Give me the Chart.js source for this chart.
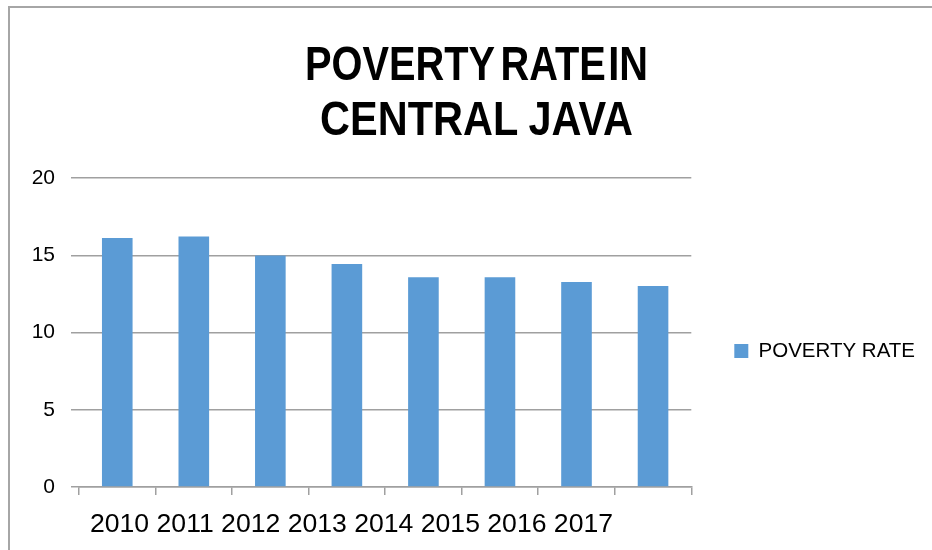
<!DOCTYPE html>
<html>
<head>
<meta charset="utf-8">
<title>Poverty Rate in Central Java</title>
<script src="https://cdn.jsdelivr.net/npm/chart.js@4.4.0/dist/chart.umd.min.js"></script>
<style>
  body { margin: 0; background: #fff; }
  #wrap { position: relative; width: 932px; height: 550px; }
</style>
</head>
<body>
<div id="wrap"><canvas id="poverty-chart" width="932" height="550"></canvas></div>
<script>
var years = ['2010', '2011', '2012', '2013', '2014', '2015', '2016', '2017'];
var povertyRate = [16.11, 16.21, 14.98, 14.44, 13.58, 13.58, 13.27, 13.01];
var seriesName = 'POVERTY RATE';
var titleLines = ['POVERTY RATE IN', 'CENTRAL JAVA'];

var gridColor = '#a0a0a0';
var barColor = '#5b9bd5';
var fontFamily = '"Liberation Sans", Arial, sans-serif';

// thin grey frame round the chart object (top and left edges show)
var framePlugin = {
    id: 'frame',
    beforeDraw: function(chart) {
        var c = chart.ctx;
        c.save();
        c.strokeStyle = '#a6a6a6';
        c.lineWidth = 2;
        c.beginPath();
        c.moveTo(9, chart.height);
        c.lineTo(9, 7);
        c.lineTo(chart.width, 7);
        c.stroke();
        c.restore();
    }
};

// condensed bold heading, two lines, squeezed to a set width
var headingPlugin = {
    id: 'heading',
    afterDraw: function(chart) {
        var c = chart.ctx;
        var baselines = [80, 135];
        var widths = [343, 313];
        var gaps = [[7, 3], [12]];
        c.save();
        c.fillStyle = '#000';
        c.font = 'bold 49px ' + fontFamily;
        c.textBaseline = 'alphabetic';
        c.textAlign = 'left';
        for (var i = 0; i < titleLines.length; i++) {
            var words = titleLines[i].split(' ');
            var total = 0;
            for (var w = 0; w < words.length; w++) {
                total += c.measureText(words[w]).width;
                if (w > 0) total += gaps[i][w - 1];
            }
            c.save();
            c.translate(476.5, baselines[i]);
            c.scale(widths[i] / total, 1);
            var x = -total / 2;
            for (var w = 0; w < words.length; w++) {
                c.fillText(words[w], x, 0);
                x += c.measureText(words[w]).width + (gaps[i][w] || 0);
            }
            c.restore();
        }
        c.restore();
    }
};

// year labels run together under the axis as one line of text
var yearLabelsPlugin = {
    id: 'yearLabels',
    afterDraw: function(chart) {
        var c = chart.ctx;
        c.save();
        c.fillStyle = '#000';
        c.font = '26.6px ' + fontFamily;
        c.textAlign = 'left';
        c.textBaseline = 'alphabetic';
        c.fillText(years.join(' '), 90, 532);
        c.restore();
    }
};

// leave a gap between the plot and the legend entry
var legendGapPlugin = {
    id: 'legendGap',
    afterLayout: function(chart) {
        if (chart.legend) {
            chart.legend.left += 33;
            chart.legend.right += 33;
        }
    }
};

var chartdata = {
    labels: years,
    datasets: [
        {
            label: seriesName,
            data: povertyRate,
            backgroundColor: barColor,
            borderWidth: 0,
            barPercentage: 0.4,
            categoryPercentage: 1.0
        }
    ]
};

var ctx = document.getElementById('poverty-chart');
var povertyChart = new Chart(ctx, {
    type: 'bar',
    data: chartdata,
    options: {
        responsive: false,
        animation: false,
        layout: { padding: { top: 178, right: 40, bottom: 0, left: 0 } },
        plugins: {
            title: { display: false },
            tooltip: { enabled: false },
            legend: {
                position: 'right',
                fullSize: false,
                title: { display: true, text: '', padding: 6.5, font: { size: 20 } },
                labels: {
                    boxWidth: 14,
                    boxHeight: 14,
                    padding: 10,
                    color: '#000',
                    font: { family: fontFamily, size: 20.5 }
                }
            }
        },
        scales: {
            x: {
                ticks: { display: false },
                grid: { drawOnChartArea: false, drawTicks: true, tickLength: 8, color: gridColor, lineWidth: 1.5, offset: true },
                border: { color: gridColor, width: 1.5 },
                afterFit: function(scale) { scale.height = 63; }
            },
            y: {
                min: 0,
                max: 20,
                ticks: {
                    stepSize: 5,
                    padding: 16,
                    color: '#000',
                    font: { family: fontFamily, size: 21 }
                },
                grid: { color: gridColor, lineWidth: 1.5, tickLength: 8 },
                border: { display: false },
                afterFit: function(scale) { scale.width = 79; }
            }
        }
    },
    plugins: [framePlugin, legendGapPlugin, headingPlugin, yearLabelsPlugin]
});
</script>
</body>
</html>
